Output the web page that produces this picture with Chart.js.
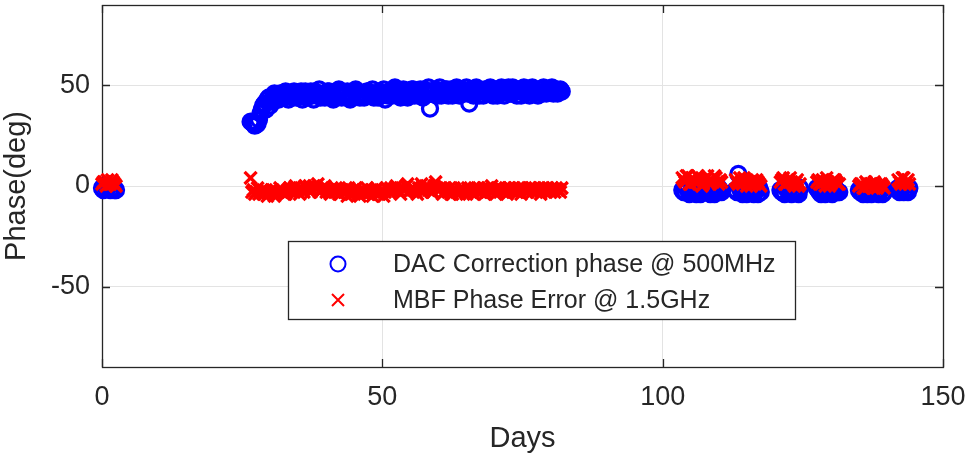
<!DOCTYPE html>
<html lang="en">

<head>
    <meta charset="UTF-8">
    <script src="https://cdn.jsdelivr.net/npm/chart.js"></script>
    <title>Phase vs Days</title>
    <style>
        body { margin: 0; background: #fff; }
    </style>
</head>

<body>
    <canvas id="phase" width="971" height="456"></canvas>
</body>

<script>
    // sample days (shared by both measurements)
    const days = [
        0, 0.5, 1, 1.5, 2, 2.5,
        26.5, 27, 27.5, 28, 28.5, 29, 29.5, 30, 30.5, 31,
        31.5, 32, 32.5, 33, 33.5, 34, 34.5, 35, 35.5, 36,
        36.5, 37, 37.5, 38, 38.5, 39, 39.5, 40, 40.5, 41,
        41.5, 42, 42.5, 43, 43.5, 44, 44.5, 45, 45.5, 46,
        46.5, 47, 47.5, 48, 48.5, 49, 49.5, 50, 50.5, 51,
        51.5, 52, 52.5, 53, 53.5, 54, 54.5, 55, 55.5, 56,
        56.5, 57, 57.5, 58, 58.5, 59, 59.5, 60, 60.5, 61,
        61.5, 62, 62.5, 63, 63.5, 64, 64.5, 65, 65.5, 66,
        66.5, 67, 67.5, 68, 68.5, 69, 69.5, 70, 70.5, 71,
        71.5, 72, 72.5, 73, 73.5, 74, 74.5, 75, 75.5, 76,
        76.5, 77, 77.5, 78, 78.5, 79, 79.5, 80, 80.5, 81,
        81.5, 82,
        103.5, 104, 104.5, 105, 105.5, 106, 106.5, 107, 107.5, 108, 108.5, 109, 109.5, 110, 110.5,
        113, 113.5, 114, 114.5, 115, 115.5, 116, 116.5, 117, 117.5,
        121, 121.5, 122, 122.5, 123, 123.5, 124, 124.5,
        127.5, 128, 128.5, 129, 129.5, 130, 130.5, 131, 131.5,
        135, 135.5, 136, 136.5, 137, 137.5, 138, 138.5, 139, 139.5,
        142, 142.5, 143, 143.5, 144,
        // in-between samples
        0.25, 0.75, 1.25, 1.75, 2.25,
        26.75, 27.25, 27.75, 28.25, 28.75, 29.25, 29.75, 30.25, 30.75, 31.25,
        31.75, 32.25, 32.75, 33.25, 33.75, 34.25, 34.75, 35.25, 35.75, 36.25,
        36.75, 37.25, 37.75, 38.25, 38.75, 39.25, 39.75, 40.25, 40.75, 41.25,
        41.75, 42.25, 42.75, 43.25, 43.75, 44.25, 44.75, 45.25, 45.75, 46.25,
        46.75, 47.25, 47.75, 48.25, 48.75, 49.25, 49.75, 50.25, 50.75, 51.25,
        51.75, 52.25, 52.75, 53.25, 53.75, 54.25, 54.75, 55.25, 55.75, 56.25,
        56.75, 57.25, 57.75, 58.25, 58.75, 59.25, 59.75, 60.25, 60.75, 61.25,
        61.75, 62.25, 62.75, 63.25, 63.75, 64.25, 64.75, 65.25, 65.75, 66.25,
        66.75, 67.25, 67.75, 68.25, 68.75, 69.25, 69.75, 70.25, 70.75, 71.25,
        71.75, 72.25, 72.75, 73.25, 73.75, 74.25, 74.75, 75.25, 75.75, 76.25,
        76.75, 77.25, 77.75, 78.25, 78.75, 79.25, 79.75, 80.25, 80.75, 81.25,
        81.75,
        103.75, 104.25, 104.75, 105.25, 105.75, 106.25, 106.75, 107.25, 107.75, 108.25, 108.75, 109.25, 109.75, 110.25,
        113.25, 113.75, 114.25, 114.75, 115.25, 115.75, 116.25, 116.75, 117.25,
        121.25, 121.75, 122.25, 122.75, 123.25, 123.75, 124.25,
        127.75, 128.25, 128.75, 129.25, 129.75, 130.25, 130.75, 131.25,
        135.25, 135.75, 136.25, 136.75, 137.25, 137.75, 138.25, 138.75, 139.25,
        142.25, 142.75, 143.25, 143.75
    ];

    // DAC correction phase @ 500MHz (deg)
    const dacPhase = [
        -1, 0, -1, -2, -1, -2,
        32, 31, 30.5, 33, 38, 41, 43, 40, 44, 45,
        43, 45, 44, 46, 45, 44, 46, 45, 47, 45,
        44, 46, 45, 47, 46, 44, 46, 45, 47, 46,
        44, 45, 47, 46, 45, 44, 46, 47, 45, 44,
        46, 45, 47, 46, 44, 45, 47, 46, 43, 45,
        47, 48, 46, 45, 47, 46, 44, 46, 48, 47,
        45, 46, 48, 47, 38.5, 46, 48, 47, 45, 46,
        48, 47, 45, 46, 48, 47, 46, 49, 41, 47,
        46, 48, 47, 45, 47, 46, 48, 47, 45, 46,
        48, 47, 49, 46, 47, 45, 47, 48, 46, 47,
        48, 46, 47, 48, 46, 47, 48, 47, 46, 48,
        47, 47,
        -2, -3, -1, -3, -2, -4, -2, -1, -3, -2, -4, -3, -2, -1, -3,
        -2, 6, -3, -1, -4, -2, -3, -2, -4, -3,
        -2, -3, -1, -2, -4, -2, -3, -1,
        -1, -3, -2, -4, -2, -1, -3, -2, -3,
        -2, -3, -2, -4, -3, -2, -3, -4, -2, -3,
        -1, -2, -3, -2, -1,
        // in-between samples
        -2, -1, 0, -1, -2,
        31.5, 30, 31, 36, 40, 38, 44, 42, 46, 43,
        46, 44, 47, 43, 46, 47, 44, 46, 43, 47,
        45, 47, 43, 46, 48, 45, 44, 47, 45, 43,
        46, 48, 44, 45, 47, 43, 45, 48, 46, 45,
        44, 47, 45, 48, 46, 44, 45, 48, 46, 47,
        45, 49, 47, 44, 48, 45, 47, 48, 45, 46,
        48, 44, 47, 49, 46, 47, 45, 49, 46, 48,
        45, 48, 47, 49, 45, 48, 47, 46, 48, 45,
        49, 45, 47, 48, 46, 49, 45, 48, 47, 49,
        45, 48, 46, 49, 47, 48, 45, 49, 47, 45,
        49, 47, 45, 48, 49, 46, 47, 49, 48, 46,
        48,
        -3, -1, -4, -2, -3, -1, -4, -2, -3, -1, -2, -4, -3, -2,
        -3, -1, -4, -2, -1, -3, -4, -2, -1,
        -3, -4, -2, -1, -3, -2, -4,
        -2, -4, -1, -3, -2, -4, -1, -3,
        -3, -4, -2, -3, -4, -1, -3, -2, -4,
        -3, -1, -2, -3
    ];

    // MBF phase error @ 1.5GHz (deg)
    const mbfPhase = [
        1, 2, 3, 1, 2, 0,
        4, -2, -3, -4, -2, -3, -5, -3, -2, -4,
        -3, -2, -4, -3, -1, -2, 0, -2, -1, -3,
        -1, 0, -2, -1, 1, -2, -1, -3, -2, -1,
        -3, -2, -4, -2, -3, -1, -4, -2, -3, -5,
        -2, -3, -4, -2, -3, -1, -4, -2, -3, -2,
        -1, -2, 0, -3, -1, -2, 1, -2, -1, -3,
        -1, 1, -2, 0, -1, -3, 2, -2, -1, -3,
        -2, -1, -4, -2, -3, -1, -2, -4, -2, -3,
        -1, -3, -2, -1, -3, -2, 0, -2, -3, -1,
        -2, -1, -3, -2, -1, -3, -2, -1, -2, -3,
        -1, -2, -3, -1, -2, -2, -1, -3, -2, -1,
        -2, -1,
        4, 2, 5, 1, 3, 2, 4, 0, 3, 5, 1, 2, 4, 1, 2,
        3, 1, 2, 4, 0, 2, 3, 1, 2, 0,
        2, 4, 1, 3, 2, 0, 3, 1,
        2, 1, 3, 0, 2, 1, 3, 2, 1,
        0, 1, -1, 1, 0, -1, 1, 0, 1, -1,
        3, 1, 4, 2, 1,
        // in-between samples
        2, 0, 1, 3, 1,
        -3, -4, -1, -3, -4, -2, -4, -2, -5, -3,
        -1, -3, -4, -2, -3, -1, -2, -4, -2, 0,
        -2, -3, 0, -1, -3, -2, 0, -2, -4, -2,
        -1, -4, -2, -3, -5, -2, -3, -1, -4, -3,
        -4, -1, -3, -5, -2, -4, -3, -5, -1, -3,
        -3, -1, -2, -4, -2, 0, -3, -1, -2, -4,
        -2, -3, 0, -2, -3, 0, -1, -2, -4, -1,
        -3, -4, -1, -3, -4, -2, -3, -1, -3, -4,
        -2, -1, -3, -4, -1, -3, -2, -4, -1, -2,
        -3, -4, -1, -3, -2, -1, -4, -2, -3, -1,
        -3, -1, -2, -4, -1, -3, -2, -1, -3, -2,
        -3,
        3, 5, 1, 4, 2, 5, 3, 1, 4, 2, 3, 5, 2, 3,
        2, 4, 1, 3, 2, 0, 2, 3, 1,
        3, 1, 2, 4, 1, 2, 0,
        3, 1, 2, 4, 0, 2, 3, 1,
        1, -1, 2, 0, 1, 2, -1, 1, 0,
        2, 4, 1, 3
    ];

    const xTicks = [0, 50, 100, 150];
    const yTicks = [-50, 0, 50];
    const seriesNames = ['DAC Correction phase @ 500MHz', 'MBF Phase Error @ 1.5GHz'];

    const axisColor = '#262626';
    const fontFamily = "'Liberation Sans', Arial, Helvetica, sans-serif";

    // box, inward ticks and the legend inside the axes
    const matlabBox = {
        id: 'matlabBox',
        beforeDatasetsDraw(chart) {
            const ctx = chart.ctx;
            const ca = chart.chartArea;
            const xs = chart.scales.x, ys = chart.scales.y;
            ctx.save();
            ctx.strokeStyle = axisColor;
            ctx.lineWidth = 1.3;
            ctx.beginPath();
            xs.ticks.forEach(function (t) {
                let px = Math.round(xs.getPixelForValue(t.value)) + 0.5;
                ctx.moveTo(px, ca.bottom); ctx.lineTo(px, ca.bottom - 8);
                ctx.moveTo(px, ca.top); ctx.lineTo(px, ca.top + 8);
            });
            ys.ticks.forEach(function (t) {
                let py = Math.round(ys.getPixelForValue(t.value)) + 0.5;
                ctx.moveTo(ca.left, py); ctx.lineTo(ca.left + 8, py);
                ctx.moveTo(ca.right, py); ctx.lineTo(ca.right - 8, py);
            });
            ctx.stroke();
            ctx.strokeRect(Math.round(ca.left) + 0.5, Math.round(ca.top) + 0.5,
                Math.round(ca.right - ca.left), Math.round(ca.bottom - ca.top));
            ctx.restore();
        },
        afterDraw(chart) {
            const ctx = chart.ctx;
            const ca = chart.chartArea;
            let bx = ca.left + 186, by = ca.bottom - 126, bw = 507, bh = 78;
            ctx.save();
            ctx.fillStyle = '#ffffff';
            ctx.fillRect(bx, by, bw, bh);
            ctx.strokeStyle = axisColor;
            ctx.lineWidth = 1.3;
            ctx.strokeRect(bx + 0.5, by + 0.5, bw, bh);
            ctx.font = '25px ' + fontFamily;
            ctx.textBaseline = 'middle';
            ctx.fillStyle = axisColor;
            chart.data.datasets.forEach(function (ds, i) {
                let ry = by + 23 + i * 36;
                ctx.strokeStyle = ds.borderColor;
                ctx.lineWidth = 2;
                ctx.beginPath();
                if (ds.pointStyle === 'circle') {
                    ctx.arc(bx + 50, ry, 7.5, 0, Math.PI * 2);
                } else {
                    ctx.moveTo(bx + 44, ry - 6); ctx.lineTo(bx + 56, ry + 6);
                    ctx.moveTo(bx + 56, ry - 6); ctx.lineTo(bx + 44, ry + 6);
                }
                ctx.stroke();
                ctx.fillText(seriesNames[i], bx + 105, ry + 1);
            });
            ctx.restore();
        }
    };

    let dacData = days.map(function (d, i) { return { x: d, y: dacPhase[i] }; });
    let mbfData = days.map(function (d, i) { return { x: d, y: mbfPhase[i] }; });

    let myChart = document.getElementById('phase').getContext('2d');
    let scatter = new Chart(myChart, {
        type: 'scatter',
        data: {
            datasets: [{
                label: seriesNames[0],
                data: dacData,
                pointStyle: 'circle',
                pointRadius: 7.5,
                pointBorderWidth: 3.3,
                borderColor: '#0000ff',
                backgroundColor: 'rgba(0,0,0,0)',
                clip: false,
                order: 2
            }, {
                label: seriesNames[1],
                data: mbfData,
                pointStyle: 'crossRot',
                pointRadius: 8.5,
                pointBorderWidth: 3.3,
                borderColor: '#ff0000',
                backgroundColor: '#ff0000',
                clip: false,
                order: 1
            }]
        },
        options: {
            responsive: false,
            animation: false,
            layout: { autoPadding: false, padding: { top: 5, right: 28, left: 0, bottom: 0 } },
            plugins: {
                legend: { display: false },
                tooltip: { enabled: false }
            },
            scales: {
                x: {
                    type: 'linear',
                    min: 0,
                    max: 150,
                    afterBuildTicks: function (s) { s.ticks = xTicks.map(function (v) { return { value: v }; }); },
                    afterFit: function (s) { s.height = 89; s.paddingLeft = 0; s.paddingRight = 0; },
                    grid: { color: '#e3e3e3', lineWidth: 1, drawTicks: false },
                    border: { display: false },
                    ticks: {
                        color: axisColor,
                        padding: 14,
                        maxRotation: 0,
                        font: { family: fontFamily, size: 27 }
                    },
                    title: {
                        display: true,
                        text: 'Days',
                        color: axisColor,
                        padding: { top: 2, bottom: 0 },
                        font: { family: fontFamily, size: 29 }
                    }
                },
                y: {
                    type: 'linear',
                    min: -90,
                    max: 90,
                    afterBuildTicks: function (s) { s.ticks = yTicks.map(function (v) { return { value: v }; }); },
                    afterFit: function (s) { s.width = 102; s.paddingTop = 0; s.paddingBottom = 0; },
                    grid: { color: '#e3e3e3', lineWidth: 1, drawTicks: false },
                    border: { display: false },
                    ticks: {
                        color: axisColor,
                        padding: 12,
                        font: { family: fontFamily, size: 27 }
                    },
                    title: {
                        display: true,
                        text: 'Phase(deg)',
                        color: axisColor,
                        padding: { top: 0, bottom: 4 },
                        font: { family: fontFamily, size: 29 }
                    }
                }
            }
        },
        plugins: [matlabBox]
    });
</script>

</html>
